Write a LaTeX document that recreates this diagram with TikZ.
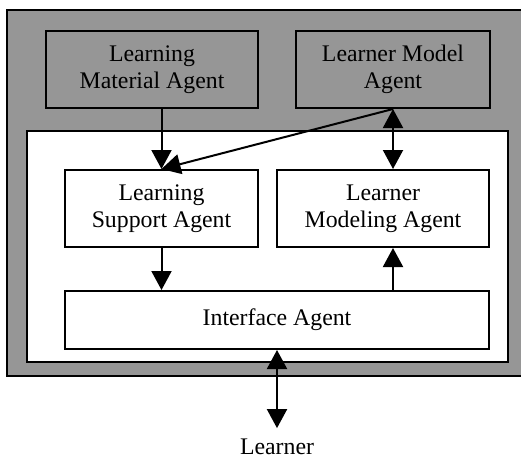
\documentclass[tikz,border=0pt]{standalone}
\usepackage{fontspec}
\setmainfont{Liberation Serif}
\usepackage{tikz}
\usetikzlibrary{arrows.meta}

\definecolor{panelgray}{RGB}{150,150,150}

\begin{document}
\begin{tikzpicture}[x=1pt,y=-1pt,
	agent/.style={shape=rectangle,draw=black,line width=2pt,align=center,
		font=\fontsize{23.8}{27}\selectfont,inner sep=0pt},
	flow/.style={line width=2pt,-{Triangle[length=19pt,width=20pt]}},
	both/.style={line width=2pt,{Triangle[length=19pt,width=20pt]}-{Triangle[length=19pt,width=20pt]}}]

	\useasboundingbox (0,0) rectangle (521,459);

	% outer agent platform and inner tutoring system
	\node[agent,fill=panelgray,minimum width=518pt,minimum height=366pt] (platform) at (266,193) {};
	\node[agent,fill=white,minimum width=481pt,minimum height=231pt] (tutor) at (267.5,246.5) {};

	\node[agent,fill=panelgray,minimum width=212pt,minimum height=77pt] (material) at (152,69.5) {Learning\\Material Agent};
	\node[agent,fill=panelgray,minimum width=194pt,minimum height=77pt] (model) at (393,69.5) {Learner Model\\Agent};
	\node[agent,minimum width=193pt,minimum height=77pt] (support) at (161.5,208.5) {Learning\\Support Agent};
	\node[agent,minimum width=212pt,minimum height=77pt] (modeling) at (383,208.5) {Learner\\Modeling Agent};
	\node[agent,minimum width=424pt,minimum height=58pt] (interface) at (277,320) {Interface Agent};
	\node[agent,draw=none] (learner) at (277,447) {Learner};

	\path[flow] (support.north |- material.south) edge (support.north);
	\path[flow] (model.south) edge (support.north);
	\path[both] (model.south) edge (model.south |- modeling.north);
	\path[flow] (support.south) edge (support.south |- interface.north);
	\path[flow] (model.south |- interface.north) edge (model.south |- modeling.south);
	\path[both,shorten >=10pt] (interface.south) edge (learner.north);

\end{tikzpicture}
\end{document}
